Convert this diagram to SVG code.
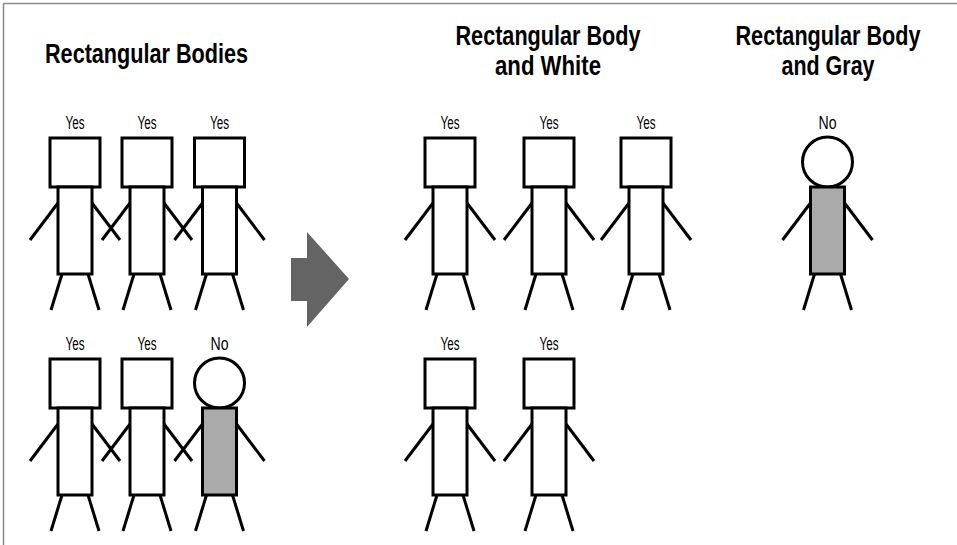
<svg xmlns="http://www.w3.org/2000/svg" xmlns:xlink="http://www.w3.org/1999/xlink" width="957" height="545" viewBox="0 0 957 545">
<style>
.title{font-family:"Liberation Sans",Arial,sans-serif;font-weight:bold;font-size:27px;fill:#000;text-anchor:middle}
.lbl{font-family:"Liberation Sans",Arial,sans-serif;font-size:18px;fill:#000;text-anchor:middle}
.ln{stroke:#000;stroke-width:3;fill:none;stroke-linecap:butt}
.box{stroke:#000;stroke-width:3;fill:#fff}
.gray{stroke:#000;stroke-width:3;fill:#aaaaaa}
</style>
<defs>
<g id="limbs">
<line class="ln" x1="-17" y1="16" x2="-45" y2="53"/>
<line class="ln" x1="17" y1="16" x2="45" y2="53"/>
<line class="ln" x1="-13" y1="87" x2="-24" y2="123"/>
<line class="ln" x1="13" y1="87" x2="24" y2="123"/>
</g>
<g id="rectman">
<use xlink:href="#limbs"/>
<rect class="box" x="-25" y="-49" width="50" height="49"/>
<rect class="box" x="-17" y="0" width="34" height="87"/>
</g>
<g id="roundgray">
<use xlink:href="#limbs"/>
<circle class="box" cx="0" cy="-25" r="25"/>
<rect class="gray" x="-17" y="0" width="34" height="87"/>
</g>
</defs>
<rect width="957" height="545" fill="#fff"/>
<g id="frame">
<line x1="3.5" y1="3.5" x2="957" y2="3.5" stroke="#888" stroke-width="1.5"/>
<line x1="3.5" y1="3.5" x2="3.5" y2="545" stroke="#888" stroke-width="1.5"/>
</g>
<g id="titles">
<text class="title" x="146.5" y="63" textLength="203" lengthAdjust="spacingAndGlyphs">Rectangular Bodies</text>
<text class="title" x="548" y="45" textLength="185" lengthAdjust="spacingAndGlyphs">Rectangular Body</text>
<text class="title" x="548" y="75" textLength="106" lengthAdjust="spacingAndGlyphs">and White</text>
<text class="title" x="828" y="45" textLength="185" lengthAdjust="spacingAndGlyphs">Rectangular Body</text>
<text class="title" x="828" y="75" textLength="93" lengthAdjust="spacingAndGlyphs">and Gray</text>
</g>
<g id="fig-a1" transform="translate(75,187)"><use xlink:href="#rectman"/><text class="lbl" x="0" y="-58" textLength="19" lengthAdjust="spacingAndGlyphs">Yes</text></g>
<g id="fig-a2" transform="translate(147,187)"><use xlink:href="#rectman"/><text class="lbl" x="0" y="-58" textLength="19" lengthAdjust="spacingAndGlyphs">Yes</text></g>
<g id="fig-a3" transform="translate(219.5,187)"><use xlink:href="#rectman"/><text class="lbl" x="0" y="-58" textLength="19" lengthAdjust="spacingAndGlyphs">Yes</text></g>
<g id="fig-a4" transform="translate(75,408)"><use xlink:href="#rectman"/><text class="lbl" x="0" y="-58" textLength="19" lengthAdjust="spacingAndGlyphs">Yes</text></g>
<g id="fig-a5" transform="translate(147,408)"><use xlink:href="#rectman"/><text class="lbl" x="0" y="-58" textLength="19" lengthAdjust="spacingAndGlyphs">Yes</text></g>
<g id="fig-a6" transform="translate(219.5,408)"><use xlink:href="#roundgray"/><text class="lbl" x="0" y="-58" textLength="18" lengthAdjust="spacingAndGlyphs">No</text></g>
<g id="connectors">
<polygon id="arrow" points="291,258 307,258 307,232 349,279 307,327 307,301 291,301" fill="#646464"/>
</g>
<g id="fig-b1" transform="translate(450,187)"><use xlink:href="#rectman"/><text class="lbl" x="0" y="-58" textLength="19" lengthAdjust="spacingAndGlyphs">Yes</text></g>
<g id="fig-b2" transform="translate(549,187)"><use xlink:href="#rectman"/><text class="lbl" x="0" y="-58" textLength="19" lengthAdjust="spacingAndGlyphs">Yes</text></g>
<g id="fig-b3" transform="translate(646,187)"><use xlink:href="#rectman"/><text class="lbl" x="0" y="-58" textLength="19" lengthAdjust="spacingAndGlyphs">Yes</text></g>
<g id="fig-b4" transform="translate(450,408)"><use xlink:href="#rectman"/><text class="lbl" x="0" y="-58" textLength="19" lengthAdjust="spacingAndGlyphs">Yes</text></g>
<g id="fig-b5" transform="translate(549,408)"><use xlink:href="#rectman"/><text class="lbl" x="0" y="-58" textLength="19" lengthAdjust="spacingAndGlyphs">Yes</text></g>
<g id="fig-c1" transform="translate(827.5,187)"><use xlink:href="#roundgray"/><text class="lbl" x="0" y="-58" textLength="18" lengthAdjust="spacingAndGlyphs">No</text></g>
</svg>
